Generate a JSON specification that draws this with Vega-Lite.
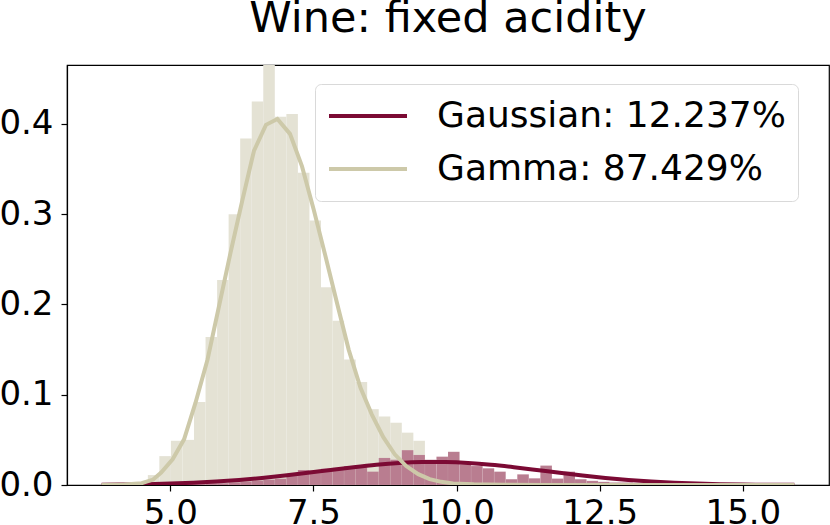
{
  "$schema": "https://vega.github.io/schema/vega-lite/v6.json",
  "width": 762,
  "height": 420,
  "autosize": {"type": "none"},
  "padding": {"left": 67, "top": 65, "right": 1, "bottom": 40},
  "background": "white",
  "title": {"text": "Wine: fixed acidity", "fontSize": 43, "font": "DejaVu Sans", "fontWeight": "normal", "anchor": "middle", "offset": 24, "color": "black"},
  "config": {
    "font": "DejaVu Sans",
    "view": {"stroke": "black", "strokeWidth": 1.2},
    "axis": {"labelFontSize": 34, "labelColor": "black", "tickColor": "black", "domainColor": "black", "tickSize": 6, "tickWidth": 1.2, "domainWidth": 1.2, "grid": false, "title": null, "labelFont": "DejaVu Sans"},
    "legend": {"orient": "none", "legendX": 248, "legendY": 19, "labelFontSize": 36, "labelFont": "DejaVu Sans", "symbolType": "stroke", "symbolSize": 6084, "symbolStrokeWidth": 4, "strokeColor": "#d9d9d9", "fillColor": "white", "cornerRadius": 6, "padding": 12, "clipHeight": 40, "rowPadding": 13, "labelOffset": 28, "labelLimit": 0, "labelColor": "black"}
  },
  "datasets": {
    "hist": [
      {"lo": 3.800, "hi": 4.002, "gamma": 0, "gauss": 0},
      {"lo": 4.002, "hi": 4.203, "gamma": 0, "gauss": 0},
      {"lo": 4.203, "hi": 4.405, "gamma": 0, "gauss": 0},
      {"lo": 4.405, "hi": 4.607, "gamma": 0.003, "gauss": 0},
      {"lo": 4.607, "hi": 4.808, "gamma": 0.011, "gauss": 0},
      {"lo": 4.808, "hi": 5.010, "gamma": 0.032, "gauss": 0},
      {"lo": 5.010, "hi": 5.212, "gamma": 0.049, "gauss": 0},
      {"lo": 5.212, "hi": 5.413, "gamma": 0.050, "gauss": 0.001},
      {"lo": 5.413, "hi": 5.615, "gamma": 0.092, "gauss": 0.001},
      {"lo": 5.615, "hi": 5.817, "gamma": 0.164, "gauss": 0.002},
      {"lo": 5.817, "hi": 6.018, "gamma": 0.227, "gauss": 0.002},
      {"lo": 6.018, "hi": 6.220, "gamma": 0.300, "gauss": 0.003},
      {"lo": 6.220, "hi": 6.422, "gamma": 0.384, "gauss": 0.004},
      {"lo": 6.422, "hi": 6.623, "gamma": 0.425, "gauss": 0.005},
      {"lo": 6.623, "hi": 6.825, "gamma": 0.480, "gauss": 0.006},
      {"lo": 6.825, "hi": 7.027, "gamma": 0.408, "gauss": 0.007},
      {"lo": 7.027, "hi": 7.228, "gamma": 0.411, "gauss": 0.010},
      {"lo": 7.228, "hi": 7.430, "gamma": 0.346, "gauss": 0.0166},
      {"lo": 7.430, "hi": 7.632, "gamma": 0.293, "gauss": 0.016},
      {"lo": 7.632, "hi": 7.833, "gamma": 0.219, "gauss": 0.018},
      {"lo": 7.833, "hi": 8.035, "gamma": 0.182, "gauss": 0.019},
      {"lo": 8.035, "hi": 8.237, "gamma": 0.139, "gauss": 0.021},
      {"lo": 8.237, "hi": 8.438, "gamma": 0.114, "gauss": 0.022},
      {"lo": 8.438, "hi": 8.640, "gamma": 0.084, "gauss": 0.0148},
      {"lo": 8.640, "hi": 8.842, "gamma": 0.076, "gauss": 0.030},
      {"lo": 8.842, "hi": 9.043, "gamma": 0.069, "gauss": 0.028},
      {"lo": 9.043, "hi": 9.245, "gamma": 0.058, "gauss": 0.0386},
      {"lo": 9.245, "hi": 9.447, "gamma": 0.049, "gauss": 0.0333},
      {"lo": 9.447, "hi": 9.648, "gamma": 0.015, "gauss": 0.028},
      {"lo": 9.648, "hi": 9.850, "gamma": 0.008, "gauss": 0.0314},
      {"lo": 9.850, "hi": 10.052, "gamma": 0.005, "gauss": 0.0368},
      {"lo": 10.052, "hi": 10.253, "gamma": 0, "gauss": 0.023},
      {"lo": 10.253, "hi": 10.455, "gamma": 0, "gauss": 0.021},
      {"lo": 10.455, "hi": 10.657, "gamma": 0, "gauss": 0.0185},
      {"lo": 10.657, "hi": 10.858, "gamma": 0, "gauss": 0.0148},
      {"lo": 10.858, "hi": 11.060, "gamma": 0, "gauss": 0.0064},
      {"lo": 11.060, "hi": 11.262, "gamma": 0, "gauss": 0.0118},
      {"lo": 11.262, "hi": 11.463, "gamma": 0, "gauss": 0.0074},
      {"lo": 11.463, "hi": 11.665, "gamma": 0, "gauss": 0.0215},
      {"lo": 11.665, "hi": 11.867, "gamma": 0, "gauss": 0.0071},
      {"lo": 11.867, "hi": 12.068, "gamma": 0, "gauss": 0.0148},
      {"lo": 12.068, "hi": 12.270, "gamma": 0, "gauss": 0.0064},
      {"lo": 12.270, "hi": 12.472, "gamma": 0, "gauss": 0.0046},
      {"lo": 12.472, "hi": 12.673, "gamma": 0, "gauss": 0.0035},
      {"lo": 12.673, "hi": 12.875, "gamma": 0, "gauss": 0.0028},
      {"lo": 12.875, "hi": 13.077, "gamma": 0, "gauss": 0.0028},
      {"lo": 13.077, "hi": 13.278, "gamma": 0, "gauss": 0.002},
      {"lo": 13.278, "hi": 13.480, "gamma": 0, "gauss": 0.002},
      {"lo": 13.480, "hi": 13.682, "gamma": 0, "gauss": 0.0015},
      {"lo": 13.682, "hi": 13.883, "gamma": 0, "gauss": 0.0015},
      {"lo": 13.883, "hi": 14.085, "gamma": 0, "gauss": 0.001},
      {"lo": 14.085, "hi": 14.287, "gamma": 0, "gauss": 0.001},
      {"lo": 14.287, "hi": 14.488, "gamma": 0, "gauss": 0.0005},
      {"lo": 14.488, "hi": 14.690, "gamma": 0, "gauss": 0.0005},
      {"lo": 14.690, "hi": 14.892, "gamma": 0, "gauss": 0.0005},
      {"lo": 14.892, "hi": 15.093, "gamma": 0, "gauss": 0.0005},
      {"lo": 15.093, "hi": 15.295, "gamma": 0, "gauss": 0.0005},
      {"lo": 15.295, "hi": 15.497, "gamma": 0, "gauss": 0},
      {"lo": 15.497, "hi": 15.698, "gamma": 0, "gauss": 0},
      {"lo": 15.698, "hi": 15.900, "gamma": 0, "gauss": 0.0005}
    ],
    "gaussCurve": [
      {"x": 3.8, "y": 0.0003}, {"x": 4.2, "y": 0.00055}, {"x": 4.6, "y": 0.00095}, {"x": 5.0, "y": 0.00158},
      {"x": 5.4, "y": 0.00251}, {"x": 5.8, "y": 0.00382}, {"x": 6.2, "y": 0.00558}, {"x": 6.6, "y": 0.00781},
      {"x": 7.0, "y": 0.01048}, {"x": 7.4, "y": 0.0135}, {"x": 7.8, "y": 0.01665}, {"x": 8.2, "y": 0.01971},
      {"x": 8.6, "y": 0.02237}, {"x": 9.0, "y": 0.02432}, {"x": 9.4, "y": 0.02537}, {"x": 9.6, "y": 0.0255},
      {"x": 9.8, "y": 0.02537}, {"x": 10.2, "y": 0.02432}, {"x": 10.6, "y": 0.02237}, {"x": 11.0, "y": 0.01971},
      {"x": 11.4, "y": 0.01665}, {"x": 11.8, "y": 0.0135}, {"x": 12.2, "y": 0.01048}, {"x": 12.6, "y": 0.00781},
      {"x": 13.0, "y": 0.00558}, {"x": 13.4, "y": 0.00382}, {"x": 13.8, "y": 0.00251}, {"x": 14.2, "y": 0.00158},
      {"x": 14.6, "y": 0.00095}, {"x": 15.0, "y": 0.00055}, {"x": 15.4, "y": 0.00031}, {"x": 15.9, "y": 0.00014}
    ],
    "gammaCurve": [
      {"x": 3.8, "y": 0}, {"x": 4.2, "y": 0.0005}, {"x": 4.5, "y": 0.002}, {"x": 4.7, "y": 0.006},
      {"x": 4.84, "y": 0.0137}, {"x": 5.04, "y": 0.0284}, {"x": 5.24, "y": 0.0506}, {"x": 5.44, "y": 0.0912},
      {"x": 5.65, "y": 0.139}, {"x": 5.85, "y": 0.198}, {"x": 6.05, "y": 0.257}, {"x": 6.26, "y": 0.316},
      {"x": 6.46, "y": 0.37}, {"x": 6.67, "y": 0.399}, {"x": 6.87, "y": 0.4055}, {"x": 7.09, "y": 0.389},
      {"x": 7.3, "y": 0.353}, {"x": 7.505, "y": 0.305}, {"x": 7.71, "y": 0.2535}, {"x": 7.91, "y": 0.202},
      {"x": 8.115, "y": 0.15}, {"x": 8.32, "y": 0.108}, {"x": 8.52, "y": 0.078}, {"x": 8.72, "y": 0.053},
      {"x": 8.92, "y": 0.034}, {"x": 9.12, "y": 0.021}, {"x": 9.33, "y": 0.012}, {"x": 9.53, "y": 0.0065},
      {"x": 9.73, "y": 0.0035}, {"x": 9.94, "y": 0.0018}, {"x": 10.3, "y": 0.0008}, {"x": 10.8, "y": 0.0003},
      {"x": 11.5, "y": 0.0001}, {"x": 12.5, "y": 0}, {"x": 15.9, "y": 0}
    ]
  },
  "layer": [
    {
      "data": {"name": "hist"},
      "mark": {"type": "bar", "color": "#e4e2d4", "clip": true, "stroke": "#ffffff", "strokeOpacity": 0.1, "strokeWidth": 0.5},
      "encoding": {
        "x": {"field": "lo", "type": "quantitative", "scale": {"domain": [3.195, 16.505], "nice": false, "zero": false},
              "axis": {"values": [5, 7.5, 10, 12.5, 15], "format": ".1f", "labelPadding": 5, "labelFlush": false}},
        "x2": {"field": "hi"},
        "y": {"field": "gamma", "type": "quantitative", "scale": {"domain": [0, 0.4653], "nice": false},
              "axis": {"values": [0, 0.1, 0.2, 0.3, 0.4], "format": ".1f", "labelPadding": 8, "labelFlush": false}},
        "y2": {"datum": 0}
      }
    },
    {
      "data": {"name": "hist"},
      "mark": {"type": "bar", "color": "#b97d90", "clip": true, "stroke": "#ffffff", "strokeOpacity": 0.1, "strokeWidth": 0.5},
      "encoding": {
        "x": {"field": "lo", "type": "quantitative"},
        "x2": {"field": "hi"},
        "y": {"field": "gauss", "type": "quantitative"},
        "y2": {"datum": 0}
      }
    },
    {
      "data": {"name": "gaussCurve"},
      "mark": {"type": "line", "strokeWidth": 4, "clip": true, "interpolate": "monotone"},
      "encoding": {
        "x": {"field": "x", "type": "quantitative"},
        "y": {"field": "y", "type": "quantitative"},
        "color": {"datum": "Gaussian: 12.237%", "type": "nominal",
                  "scale": {"domain": ["Gaussian: 12.237%", "Gamma: 87.429%"], "range": ["#7b0a34", "#cdc9a9"]},
                  "legend": {"title": null}}
      }
    },
    {
      "data": {"name": "gammaCurve"},
      "mark": {"type": "line", "strokeWidth": 4, "clip": true},
      "encoding": {
        "x": {"field": "x", "type": "quantitative"},
        "y": {"field": "y", "type": "quantitative"},
        "color": {"datum": "Gamma: 87.429%", "type": "nominal"}
      }
    }
  ]
}
